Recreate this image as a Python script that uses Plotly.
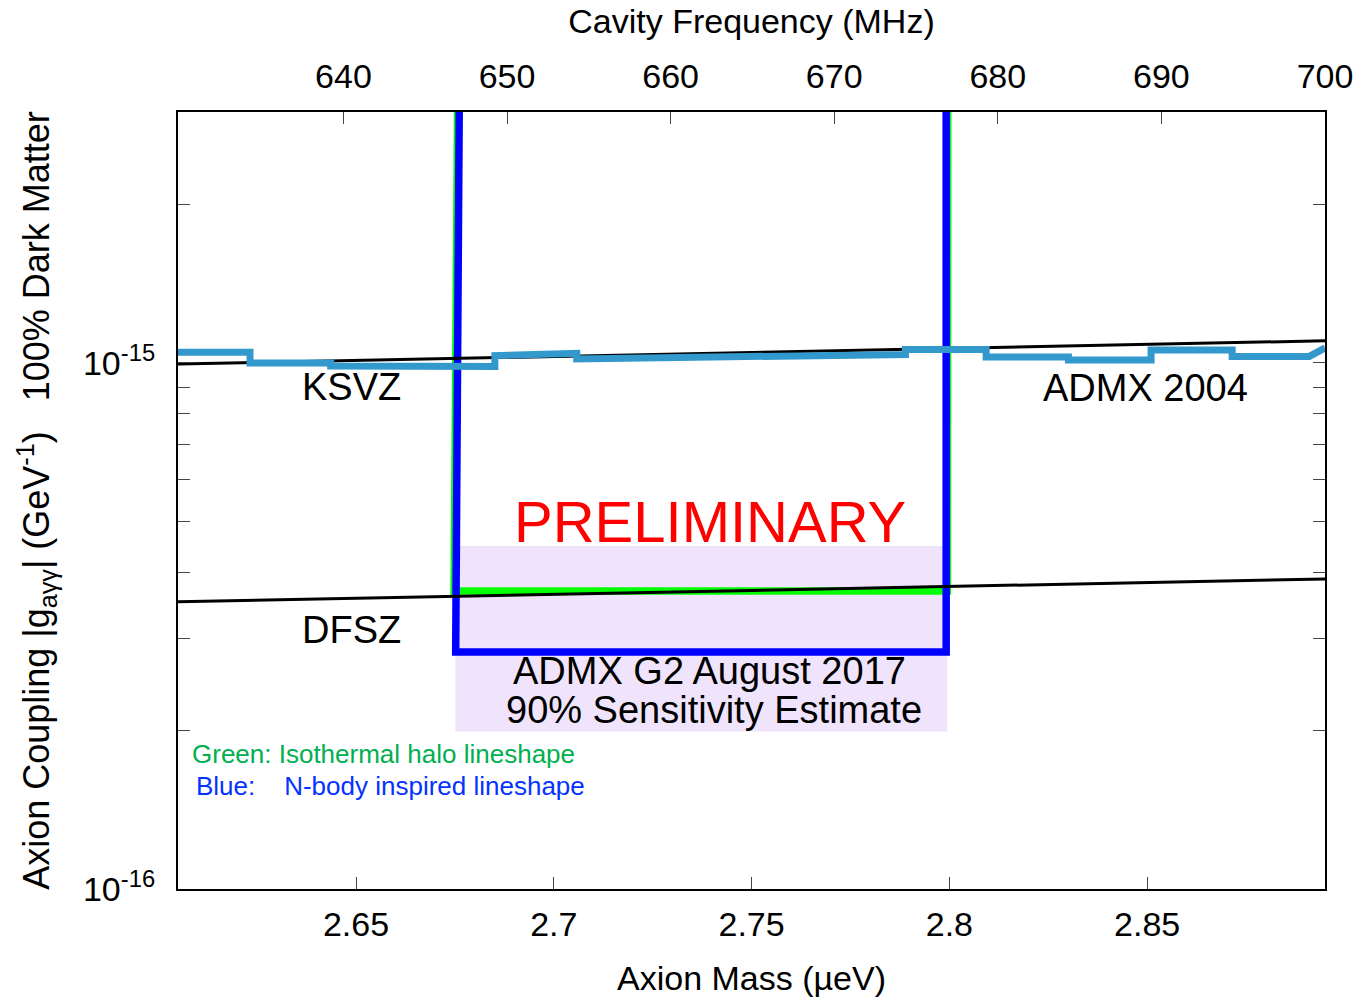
import numpy as np
import plotly.graph_objects as go

# --- conversion between axion mass (ueV) and cavity frequency (MHz)
H_UEV_PER_MHZ = 4.135667e-3

# --- axis tick values
mass_ticks = [2.65, 2.70, 2.75, 2.80, 2.85]
freq_ticks = [640, 650, 660, 670, 680, 690, 700]
coupling_major = [1e-16, 1e-15]
coupling_major_text = ["10<sup>-16</sup>", "10<sup>-15</sup>"]
coupling_minor = [2e-16, 3e-16, 4e-16, 5e-16, 6e-16, 7e-16, 8e-16, 9e-16, 2e-15, 3e-15]

# --- model lines (g_agg in GeV^-1 vs mass in ueV)
ksvz_mass = [2.605, 2.895]
ksvz_g = [0.995e-15, 1.102e-15]
dfsz_mass = [2.605, 2.895]
dfsz_g = [3.515e-16, 3.885e-16]

# --- ADMX 2004 exclusion limit (step line)
admx2004_mass = [2.6050, 2.6232, 2.6232, 2.6436, 2.6436, 2.6644, 2.6644, 2.6851,
                 2.6851, 2.7058, 2.7058, 2.7889, 2.7889, 2.8093, 2.8093, 2.8301,
                 2.8301, 2.8510, 2.8510, 2.8715, 2.8715, 2.8910, 2.8950]
admx2004_g = [1.048e-15, 1.048e-15, 1.000e-15, 1.000e-15, 0.987e-15, 0.987e-15,
              0.985e-15, 0.985e-15, 1.033e-15, 1.043e-15, 1.018e-15, 1.038e-15,
              1.061e-15, 1.061e-15, 1.027e-15, 1.027e-15, 1.013e-15, 1.013e-15,
              1.059e-15, 1.059e-15, 1.029e-15, 1.029e-15, 1.068e-15]

# --- ADMX G2 August 2017 sensitivity estimates
iso_mass = [2.6758, 2.6748, 2.6748, 2.7995, 2.7995, 2.7996]
iso_g = [4.0e-15, 3.9e-16, 3.684e-16, 3.684e-16, 3.9e-16, 4.0e-15]
nbody_mass = [2.6762, 2.6752, 2.7992, 2.7992]
nbody_g = [4.0e-15, 2.822e-16, 2.822e-16, 4.0e-15]

# --- shaded estimate region
region_mass = [2.6751, 2.7995]
region_g = [1.992e-16, 4.487e-16]

mass_range = [2.605, 700 * H_UEV_PER_MHZ]
FONT = "Liberation Sans, Arial, Helvetica, sans-serif"

fig = go.Figure()

# shaded region
fig.add_trace(go.Scatter(
    x=[region_mass[0], region_mass[1], region_mass[1], region_mass[0], region_mass[0]],
    y=[region_g[0], region_g[0], region_g[1], region_g[1], region_g[0]],
    mode="lines", fill="toself", fillcolor="#F0E4FC", line=dict(width=0),
    hoverinfo="skip", showlegend=False))

# isothermal halo (green)
fig.add_trace(go.Scatter(x=iso_mass, y=iso_g, mode="lines",
                         line=dict(color="#00FF00", width=7.5),
                         showlegend=False, name="Isothermal"))
# N-body (blue)
fig.add_trace(go.Scatter(x=nbody_mass, y=nbody_g, mode="lines",
                         line=dict(color="#0000FF", width=7.5),
                         showlegend=False, name="N-body"))
# KSVZ / DFSZ
fig.add_trace(go.Scatter(x=ksvz_mass, y=ksvz_g, mode="lines",
                         line=dict(color="black", width=3), showlegend=False, name="KSVZ"))
fig.add_trace(go.Scatter(x=dfsz_mass, y=dfsz_g, mode="lines",
                         line=dict(color="black", width=3), showlegend=False, name="DFSZ"))
# ADMX 2004
fig.add_trace(go.Scatter(x=admx2004_mass, y=admx2004_g, mode="lines",
                         line=dict(color="#3399CC", width=7), showlegend=False,
                         name="ADMX 2004"))
# invisible trace to carry the frequency axis
fig.add_trace(go.Scatter(x=[m / H_UEV_PER_MHZ for m in ksvz_mass], y=ksvz_g,
                         xaxis="x2", mode="lines", line=dict(width=0),
                         opacity=0, hoverinfo="skip", showlegend=False))

axis_common = dict(showline=True, linewidth=2, linecolor="black", showgrid=False,
                   zeroline=False, ticks="inside", tickcolor="#444", tickwidth=1,
                   automargin=False,
                   tickfont=dict(size=34, color="black", family=FONT))

fig.update_layout(
    width=1364, height=998,
    margin=dict(l=178, r=39, t=112, b=109),
    paper_bgcolor="white", plot_bgcolor="white",
    font=dict(family=FONT, color="black"),
    xaxis=dict(range=mass_range, tickvals=mass_ticks, ticklen=12, mirror=True,
               ticklabelstandoff=4,
               title=dict(text="Axion Mass (µeV)", font=dict(size=34), standoff=24),
               **axis_common),
    xaxis2=dict(range=[m / H_UEV_PER_MHZ for m in mass_range], overlaying="x",
                side="top", tickvals=freq_ticks, ticklen=12, ticklabelstandoff=8,
                title=dict(text="Cavity Frequency (MHz)", font=dict(size=34), standoff=14),
                **axis_common),
    yaxis=dict(type="log", range=[-16, np.log10(3e-15)], tickvals=coupling_major,
               ticktext=coupling_major_text, ticklen=12, mirror="allticks",
               ticklabelstandoff=14,
               minor=dict(tickvals=coupling_minor, ticklen=7, ticks="inside",
                          tickcolor="#444", tickwidth=1),
               title=dict(text="Axion Coupling |g<sub>aγγ</sub>| (GeV<sup>-1</sup>)"
                               "\u00a0\u00a0\u00a0100% Dark Matter",
                          font=dict(size=36), standoff=22),
               **axis_common),
)

def label(text, m, g, size, color="black", xanchor="center"):
    fig.add_annotation(x=m, y=np.log10(g), xref="x", yref="y", text=text,
                       showarrow=False, xanchor=xanchor, yanchor="middle",
                       font=dict(size=size, color=color, family=FONT))

label("KSVZ", 2.6489, 9.00e-16, 38)
label("DFSZ", 2.6489, 3.107e-16, 38)
label("ADMX 2004", 2.8495, 8.96e-16, 38)
label("PRELIMINARY", 2.7394, 5.005e-16, 58, color="#FF0000")
label("ADMX G2 August 2017", 2.7394, 2.597e-16, 38)
label("90% Sensitivity Estimate", 2.7405, 2.189e-16, 38)
label("Green: Isothermal halo lineshape", 2.6080, 1.806e-16, 26, color="#00B050",
      xanchor="left")
label("Blue:\u00a0\u00a0\u00a0\u00a0N-body inspired lineshape", 2.6090, 1.569e-16, 26,
      color="#0433FF", xanchor="left")

fig.write_html("out.html")
